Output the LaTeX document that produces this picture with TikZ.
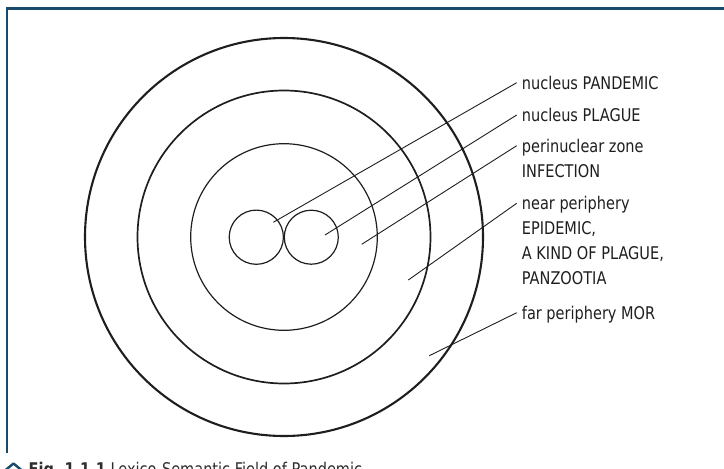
\documentclass[tikz,border=0pt]{standalone}
\usepackage{fontspec}
\setmainfont[FakeStretch=0.83]{DejaVu Sans}
\definecolor{framecol}{RGB}{24,74,108}
\definecolor{ringcol}{RGB}{30,30,30}
\definecolor{captext}{RGB}{45,45,45}
\newcommand{\lines}[1]{\begin{tabular}[t]{@{}l@{}}#1\end{tabular}}
\begin{document}
\begin{tikzpicture}[x=1pt,y=-1pt,
  ring/.style={draw=ringcol},
  leader/.style={draw=ringcol,line width=0.9pt},
  lbl/.style={anchor=base west,inner sep=0pt,font=\fontsize{17.5}{25}\selectfont,text=ringcol},
  framebar/.style={draw=framecol,line width=2.6pt}]
\useasboundingbox (0,0) rectangle (724,469);
\clip (0,0) rectangle (724,469);
% frame
\draw[framebar] (724,8.5) -- (7,8.5) -- (7,452.5);
% circles
\coordinate (c) at (284,237);
\draw[ring,line width=2.1pt] (c) circle[radius=199pt];
\draw[ring,line width=1.7pt] (c) circle[radius=146.5pt];
\draw[ring,line width=1.2pt] (c) circle[radius=93.3pt];
\draw[ring,line width=1.2pt] (256.3,237.2) circle[radius=27.1pt];
\draw[ring,line width=1.2pt] (311.3,237.2) circle[radius=27pt];
% labels
\node[lbl] (l1) at (521.7,89) {nucleus PANDEMIC};
\node[lbl] (l2) at (521.7,121.3) {nucleus PLAGUE};
\node[lbl] (l3) at (521.7,152) {\lines{perinuclear zone\\INFECTION}};
\node[lbl] (l4) at (521.7,209.6) {\lines{near periphery\\EPIDEMIC,\\A KIND OF PLAGUE,\\PANZOOTIA}};
\node[lbl] (l5) at (521.7,319) {far periphery MOR};
% leader starting points
\coordinate (p1) at (273.3,222.3);
\coordinate (p2) at (325,235);
\coordinate (p3) at (361.7,244.3);
\coordinate (p4) at (408.3,280);
\coordinate (p5) at (429.3,355.7);
\draw[leader] (p1) -- ([shift={(-5,-6.3)}]l1.base west);
\draw[leader] (p2) -- ([shift={(-5,-6.3)}]l2.base west);
\draw[leader] (p3) -- ([shift={(-5,-6.3)}]l3.base west);
\draw[leader] (p4) -- ([shift={(-5,-6.3)}]l4.base west);
\draw[leader] (p5) -- ([shift={(-5,-6.3)}]l5.base west);
% caption
\draw[draw=framecol,line width=2.4pt,line join=round] (5,470.5) -- (13.5,463.5) -- (22,470.5);
\node[anchor=base west,inner sep=0pt,font=\fontsize{17.5}{22}\selectfont,text=captext] (cap) at (28.5,475.5)
  {\textbf{Fig.\ 1.1.1} Lexico-Semantic Field of Pandemic};
\end{tikzpicture}
\end{document}
